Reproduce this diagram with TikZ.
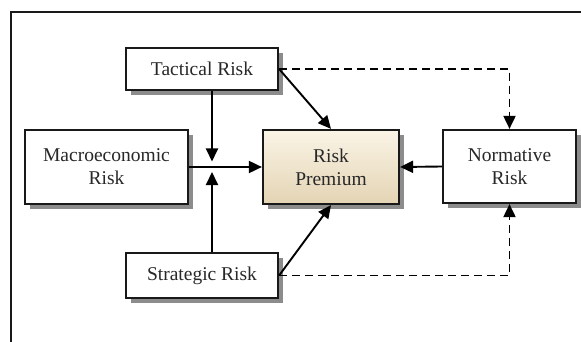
\documentclass[tikz,border=0pt]{standalone}
\usepackage{fontspec}
\setmainfont{Liberation Serif}
\usetikzlibrary{arrows.meta,shadows}
\definecolor{txt}{RGB}{40,40,40}
\definecolor{rptop}{RGB}{250,244,230}
\definecolor{rpbot}{RGB}{228,212,180}
\tikzset{
  riskbox/.style={draw=black!90, line width=2.2pt, fill=white, align=center,
    text=txt, font=\fontsize{19.5}{23}\selectfont, inner sep=0pt,
    drop shadow={shadow xshift=5pt, shadow yshift=-5pt, fill=black!45, opacity=1}},
  arr/.style={line width=1.9pt, draw=black, -{Triangle[length=13pt,width=12pt]}},
  darr/.style={arr, dash pattern=on 8pt off 5pt},
}
\begin{document}
\begin{tikzpicture}[x=1pt,y=-1pt]
\useasboundingbox (0,0) rectangle (581,342);
\fill[white] (0,0) rectangle (581,342);
\draw[line width=2.4pt, black!90] (11,342) -- (11,12) -- (581,12);

\node[riskbox, minimum width=152pt, minimum height=42pt] (tac) at (202,69) {Tactical Risk};
\node[riskbox, minimum width=163pt, minimum height=74pt] (mac) at (106.5,167) {Macroeconomic\\Risk};
\node[riskbox, minimum width=136pt, minimum height=74pt, top color=rptop, bottom color=rpbot] (rp) at (331,167) {Risk\\Premium};
\node[riskbox, minimum width=133pt, minimum height=73pt] (nor) at (509.5,166.5) {Normative\\Risk};
\node[riskbox, minimum width=152pt, minimum height=45pt] (str) at (202,275.5) {Strategic Risk};

\coordinate (jt) at (212,161.5);
\coordinate (js) at (212,172);

\draw[arr] (tac.south -| jt) -- (jt);
\draw[arr] (str.north -| js) -- (js);
\draw[arr] (mac.east) -- (rp.west);
\draw[arr] (tac.east) -- (rp.north);
\draw[arr] (str.east) -- (rp.south);
\draw[arr] (nor.west) -- (rp.east);
\draw[darr] (tac.east) -| (nor.north);
\draw[darr] (str.east) -| (nor.south);
\end{tikzpicture}
\end{document}
